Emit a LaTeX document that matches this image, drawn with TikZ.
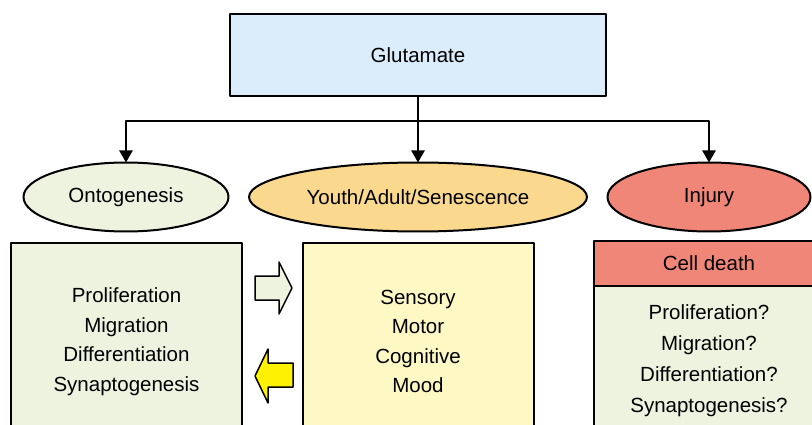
\documentclass[tikz,border=0pt]{standalone}
\usepackage{fontspec}
\setmainfont{Liberation Sans}
\usetikzlibrary{shapes.geometric,arrows.meta,positioning}

\definecolor{glublue}{HTML}{DBEDFB}
\definecolor{ontogreen}{HTML}{EEF3E0}
\definecolor{youthorange}{HTML}{FAD98E}
\definecolor{youthyellow}{HTML}{FEF9C4}
\definecolor{injuryred}{HTML}{F08677}
\definecolor{arrowyellow}{HTML}{FFF200}

\begin{document}
\begin{tikzpicture}[x=1pt, y=-1pt, line join=round,
	>={Triangle[width=13pt,length=12pt]},
	every node/.style={font=\fontsize{20.5}{29.5}\selectfont, inner sep=0pt, outer sep=0pt},
	box/.style={draw, line width=2pt, minimum width=231pt, align=center},
	oval/.style={draw, ellipse, line width=2pt, minimum height=69pt},
	link/.style={line width=2.4pt}]
	
	\clip (0,0) rectangle (812,425);
	
	% top box
	\node[box, fill=glublue, minimum width=376pt, minimum height=82pt] (glut) at (418,55) {Glutamate};
	
	% the three stages
	\node[oval, fill=ontogreen, minimum width=205pt] (onto) at (126,197) {Ontogenesis};
	\node[oval, fill=youthorange, minimum width=338pt] (youth) at (418,197) {Youth/Adult/Senescence};
	\node[oval, fill=injuryred, minimum width=203pt] (injury) at (709,197) {Injury};
	
	\coordinate (split) at (418,121);
	\draw[link] (glut) -- (split);
	\draw[link,->] (split) -| (onto);
	\draw[link,->] (split) -- (youth);
	\draw[link,->] (split) -| (injury);
	
	% boxes below
	\node[box, fill=ontogreen, minimum height=197pt] (ontobox) at (126.5,341.5)
		{Proliferation\\Migration\\Differentiation\\Synaptogenesis};
	\node[box, fill=youthyellow, minimum height=197pt] (youthbox) at (418,341.5)
		{Sensory\\Motor\\Cognitive\\Mood};
	\node[box, fill=injuryred, minimum height=45pt] (death) at (709,263.5) {Cell death};
	\node[box, fill=ontogreen, minimum height=149pt, below=0pt of death,
		font=\fontsize{20.5}{31}\selectfont] (injurybox)
		{Proliferation?\\Migration?\\Differentiation?\\Synaptogenesis?};
	
	% block arrows between the boxes
	\draw[line width=1.5pt, fill=ontogreen] (255,276) -- (279,276) -- (279,262) -- (292,288)
		-- (279,314) -- (279,300) -- (255,300) -- cycle;
	\draw[line width=1.5pt, fill=arrowyellow] (255,376) -- (268,349) -- (268,363) -- (293,363)
		-- (293,387) -- (268,387) -- (268,403) -- cycle;
	
\end{tikzpicture}
\end{document}
